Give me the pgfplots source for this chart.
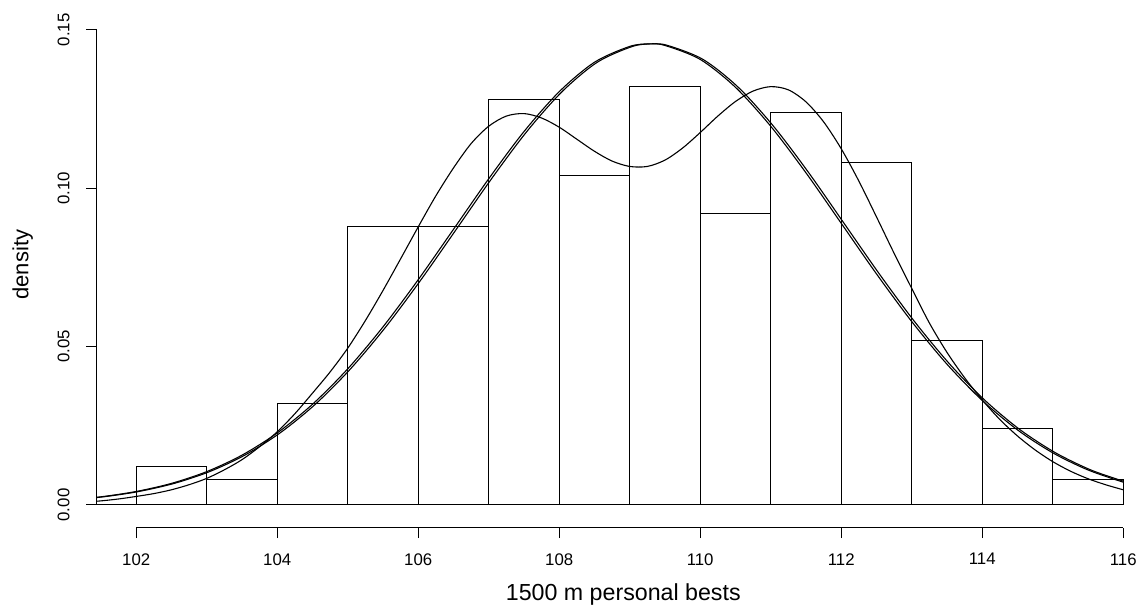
\documentclass[border=0pt]{standalone}
\usepackage{fontspec}
\setmainfont{Liberation Sans}
\usepackage{pgfplots}
\pgfplotsset{compat=1.18}

% histogram bars: left edge, density (last row closes the interval)
\newcommand{\bars}{(102,0.012) (103,0.008) (104,0.032) (105,0.088) (106,0.088)
 (107,0.128) (108,0.104) (109,0.132) (110,0.092) (111,0.124) (112,0.108)
 (113,0.052) (114,0.024) (115,0.008) (116,0.008)}

\begin{document}
\begin{tikzpicture}
\useasboundingbox (-48.35pt,-41.15pt) rectangle (520.65pt,263.85pt);
\begin{axis}[
  at={(0,0)}, anchor=south west,
  scale only axis, width=520.65pt, height=263.85pt,
  xmin=101.44, xmax=116.21, ymin=-0.00717, ymax=0.15946,
  axis x line*=bottom, axis y line*=left,
  axis line style={draw=none},
  xtick={102,104,...,116}, ytick={0,0.05,0.1,0.15},
  tick align=outside, major tick length=5.2pt,
  tick style={black, line width=0.5pt},
  scaled y ticks=false,
  /pgf/number format/assume math mode=true,
  tick label style={font=\fontsize{8.4}{10}\selectfont, inner sep=0pt},
  xticklabel style={anchor=north},
  xticklabel shift=7.45pt,
  yticklabel style={rotate=90, anchor=south,
    /pgf/number format/.cd, fixed, fixed zerofill, precision=2},
  yticklabel shift=8.15pt,
]
\addplot[ybar interval, draw=black, fill=none, line width=0.5pt] coordinates {\bars};
\addplot[black, line width=0.5pt] coordinates {(101,0) (116,0)};

% normal fit
\addplot[black, line width=0.55pt, smooth] coordinates {
 (101.0,0.00152) (101.5,0.00259) (102.0,0.00427) (102.5,0.00682) (103.0,0.01053)
 (103.5,0.01573) (104.0,0.02274) (104.5,0.03179) (105.0,0.04298) (105.5,0.05622)
 (106.0,0.07113) (106.5,0.08703) (107.0,0.1030) (107.5,0.1179) (108.0,0.1305)
 (108.5,0.1398) (109.0,0.1448) (109.28,0.1456) (109.5,0.1451) (110.0,0.1407)
 (110.5,0.1319) (111.0,0.1196) (111.5,0.1049) (112.0,0.08896) (112.5,0.07299)
 (113.0,0.05793) (113.5,0.04447) (114.0,0.03302) (114.5,0.02372) (115.0,0.01648)
 (115.5,0.01107) (116.0,0.00720)};
% second, nearly identical fit
\addplot[black, line width=0.55pt, smooth] coordinates {
 (101.04,0.00152) (101.54,0.00259) (102.04,0.00427) (102.54,0.00682) (103.04,0.01053)
 (103.54,0.01573) (104.04,0.02274) (104.54,0.03179) (105.04,0.04298) (105.54,0.05622)
 (106.04,0.07113) (106.54,0.08703) (107.04,0.1030) (107.54,0.1179) (108.04,0.1305)
 (108.54,0.1398) (109.04,0.1448) (109.32,0.1456) (109.54,0.1451) (110.04,0.1407)
 (110.54,0.1319) (111.04,0.1196) (111.54,0.1049) (112.04,0.08896) (112.54,0.07299)
 (113.04,0.05793) (113.54,0.04447) (114.04,0.03302) (114.54,0.02372) (115.04,0.01648)
 (115.54,0.01107) (116.0,0.00754)};
% two-component mixture
\addplot[black, line width=0.55pt, smooth] coordinates {
 (101.0,0.0006) (101.25,0.0009) (101.5,0.0013) (101.75,0.0019) (102.0,0.0027)
 (102.25,0.0036) (102.5,0.0048) (102.75,0.0064) (103.0,0.0084) (103.25,0.0111)
 (103.5,0.0143) (103.75,0.0184) (104.0,0.0231) (104.25,0.0288) (104.5,0.0353)
 (104.75,0.0420) (105.0,0.0495) (105.25,0.0582) (105.5,0.0677) (105.75,0.0777)
 (106.0,0.0878) (106.25,0.0976) (106.5,0.1064) (106.75,0.1141) (107.0,0.1196)
 (107.25,0.1228) (107.5,0.1236) (107.75,0.1222) (108.0,0.1193) (108.25,0.1155)
 (108.5,0.1117) (108.75,0.1086) (109.0,0.1069) (109.25,0.1069) (109.5,0.1089)
 (109.75,0.1127) (110.0,0.1176) (110.25,0.1228) (110.5,0.1274) (110.75,0.1307)
 (111.0,0.1321) (111.25,0.1311) (111.5,0.1273) (111.75,0.1210) (112.0,0.1125)
 (112.25,0.1023) (112.5,0.0910) (112.75,0.0795) (113.0,0.0684) (113.25,0.0575)
 (113.5,0.0482) (113.75,0.0402) (114.0,0.0332) (114.25,0.0270) (114.5,0.0218)
 (114.75,0.0174) (115.0,0.0137) (115.25,0.0107) (115.5,0.0083) (115.75,0.0064)
 (116.0,0.0048)};

\coordinate (xa) at (axis cs:102,0);
\coordinate (xb) at (axis cs:116,0);
\coordinate (ya) at (axis cs:116,0);
\coordinate (yb) at (axis cs:116,0.15);
\end{axis}
\coordinate (O) at (0,0);
\draw[line width=0.5pt] (xa |- O) -- (xb |- O);
\draw[line width=0.5pt] (O |- ya) -- (O |- yb);
\node[anchor=base, font=\fontsize{11.6}{14}\selectfont] at (263.3pt,-36.15pt) {1500 m personal bests};
\node[rotate=90, anchor=base, font=\fontsize{11}{13}\selectfont] at (-34.1pt,131.5pt) {density};
\end{tikzpicture}
\end{document}
